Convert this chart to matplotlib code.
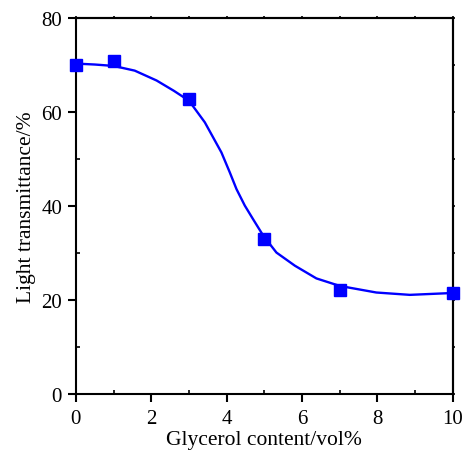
import matplotlib
matplotlib.use('Agg')
import matplotlib.pyplot as plt
from matplotlib.ticker import MultipleLocator

plt.rcParams['font.family'] = ['Liberation Serif', 'DejaVu Serif']

# measured points
glycerol = [0, 1, 3, 5, 7, 10]
transmittance = [70.0, 70.8, 62.7, 33.0, 22.2, 21.5]

# smoothed trend line through the measurements
curve_x = [0, 0.5, 1.0, 1.56, 2.14, 2.6, 3.0, 3.42, 3.64, 3.86, 4.08, 4.26, 4.48,
           4.70, 4.97, 5.32, 5.81, 6.38, 7.0, 7.97, 8.86, 10.0]
curve_y = [70.3, 70.1, 69.8, 68.8, 66.7, 64.5, 62.4, 57.8, 54.6, 51.4, 47.2, 43.6, 40.1,
           37.2, 33.7, 30.1, 27.3, 24.6, 23.0, 21.6, 21.1, 21.5]

fig = plt.figure(figsize=(4.63, 4.52), dpi=100)
ax = fig.add_axes([0.164, 0.126, 0.814, 0.832])

ax.plot(curve_x, curve_y, color='#0000FF', linewidth=1.7, zorder=3, clip_on=False)
ax.plot(glycerol, transmittance, linestyle='none', marker='s', markersize=8.5,
        color='#0000FF', zorder=4, clip_on=False)

ax.set_xlim(0, 10)
ax.set_ylim(0, 80)
ax.xaxis.set_major_locator(MultipleLocator(2))
ax.xaxis.set_minor_locator(MultipleLocator(1))
ax.yaxis.set_major_locator(MultipleLocator(20))
ax.yaxis.set_minor_locator(MultipleLocator(10))

for s in ax.spines.values():
    s.set_linewidth(1.5)

ax.tick_params(axis='both', which='major', direction='out', length=6, width=1.5,
               labelsize=15, colors='black', pad=4)
ax.tick_params(axis='x', which='major', pad=5)
ax.tick_params(axis='both', which='minor', direction='in', length=3, width=1.2)

# small ticks along the top and right edges
top = ax.secondary_xaxis('top')
right = ax.secondary_yaxis('right')
top.xaxis.set_major_locator(MultipleLocator(1))
right.yaxis.set_major_locator(MultipleLocator(10))
for sec in (top, right):
    sec.tick_params(which='major', direction='out', length=1.5, width=1.2, labelsize=0)
    sec.spines[:].set_linewidth(1.5)
top.set_xticklabels([])
right.set_yticklabels([])

ax.set_xlabel('Glycerol content/vol%', fontsize=15.5, labelpad=1)
ax.set_ylabel('Light transmittance/%', fontsize=15.5, labelpad=4)

fig.savefig('out.png', dpi=100)
